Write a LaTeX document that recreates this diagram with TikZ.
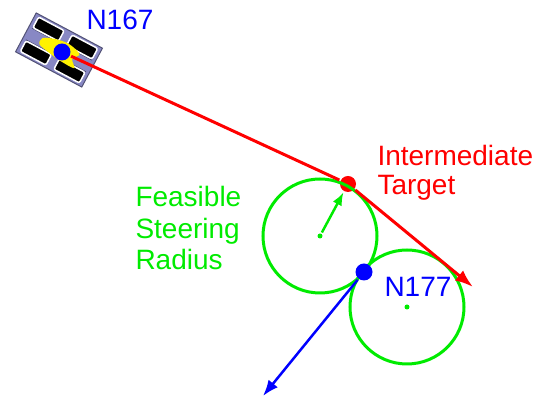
\documentclass[tikz,border=0pt]{standalone}
\usepackage{fontspec}
\setmainfont{Liberation Sans}
\usetikzlibrary{arrows.meta}

\definecolor{lgreen}{RGB}{0,235,0}
\definecolor{carbody}{RGB}{136,136,196}

\begin{document}
\begin{tikzpicture}[x=1pt,y=1pt,line width=3pt,
		dot node/.style={circle,fill,inner sep=0pt,minimum size=17pt},
		center node/.style={circle,fill=lgreen,inner sep=0pt,minimum size=5pt},
		label node/.style={inner sep=0pt,align=left,anchor=base west,
			font=\fontsize{28}{31.5}\selectfont}]
	\useasboundingbox (0,0) rectangle (542,401);

	% the vehicle at N167
	\begin{scope}[shift={(59,351)},rotate=-28]
		\filldraw[fill=carbody,draw=carbody!60!black,line width=1pt] (-37.5,-22) rectangle (37.5,22);
		\draw[carbody!50!black,line width=0.6pt] (-34,-6.5) -- (34,-6.5) (-34,6.5) -- (34,6.5);
		\foreach \x in {-19,19}
			\foreach \y in {-13.5,13.5}
				\filldraw[fill=black,draw=white,line width=1.5pt,rounded corners=2pt] (\x-14.5,\y-6) rectangle (\x+14.5,\y+6);
		\fill[yellow] plot[smooth cycle] coordinates {(-20,3) (-8,8) (6,10) (20,6) (16,-2) (22,-9) (6,-9) (-8,-7) (-20,-4)};
	\end{scope}

	\node[dot node,blue] (n167) at (62,349) {};
	\node[dot node,red,minimum size=16pt] (target) at (348,217) {};
	\node[center node] (c1) at (320,165) {};
	\node[center node] (c2) at (407,94) {};
	\coordinate (redend) at (473,114);
	\coordinate (blueend) at (263,5);

	% feasible steering circles
	\draw[lgreen] (c1) circle (57);
	\draw[lgreen] (c2) circle (57);

	\node[dot node,blue] (n177) at (364,129) {};

	\path[red]
	(n167) edge (target)
	(target) edge[-{Latex[length=18pt,width=13pt]}] (redend);
	\draw[lgreen,line width=2.5pt,-{Latex[length=13pt,width=10pt]}] (c1) -- (target);
	\draw[blue,line width=2.5pt,-{Latex[length=16pt,width=12pt]}] (n177) -- (blueend);

	\node[label node,text=blue] (l167) at (85,371) {N167};
	\node[label node,text=blue] (l177) at (383,104) {N177};
	\node[label node,text=red,font=\fontsize{28}{28.5}\selectfont] (ltarget) at (376,206.5) {Intermediate\\Target};
	\node[label node,text=lgreen] (lradius) at (134,131) {Feasible\\Steering\\Radius};
\end{tikzpicture}
\end{document}
